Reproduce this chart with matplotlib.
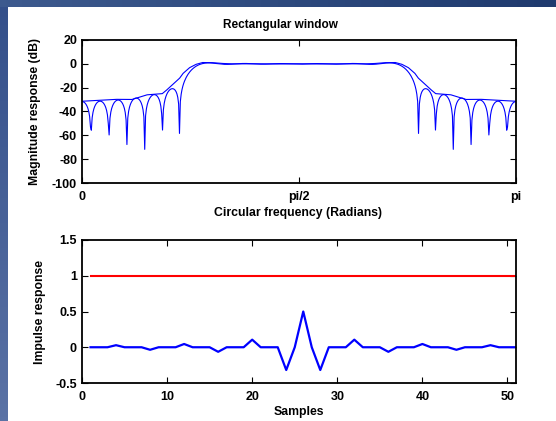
import numpy as np
import matplotlib
matplotlib.use('Agg')
import matplotlib.pyplot as plt

plt.rcParams['font.family'] = ['Liberation Sans', 'DejaVu Sans']
plt.rcParams['font.weight'] = 'bold'
plt.rcParams['axes.unicode_minus'] = False

# 51-tap bandpass impulse response (rectangular window), samples 1..51
samples = np.arange(1, 52)
h = [0, 0, 0, 0.0289, 0, 0, 0, -0.0354, 0, 0, 0, 0.0455, 0, 0, 0, -0.0637,
     0, 0, 0, 0.1061, 0, 0, 0, -0.3183, 0, 0.5, 0, -0.3183, 0, 0, 0, 0.1061,
     0, 0, 0, -0.0637, 0, 0, 0, 0.0455, 0, 0, 0, -0.0354, 0, 0, 0, 0.0289,
     0, 0, 0]
ideal = [1.0] * 51

# smooth response curve, frequency in units of pi and level in dB
env_w = [0.000, 0.040, 0.080, 0.115, 0.125, 0.150, 0.185, 0.195, 0.225,
         0.233, 0.248, 0.263, 0.278, 0.300, 0.325, 0.345, 0.400, 0.450,
         0.500, 0.550, 0.600, 0.655, 0.675, 0.700, 0.722, 0.737, 0.752,
         0.767, 0.775, 0.805, 0.815, 0.850, 0.875, 0.885, 0.920, 0.960, 1.000]
env_db = [-31.4, -30.6, -29.8, -29.9, -28.8, -26.0, -25.0, -22.0, -12.0,
          -8.0, -3.2, -0.4, 1.1, 1.0, 0.3, 0.0, 0.0, -0.1,
          0.0, -0.1, 0.0, 0.0, 0.3, 1.0, 1.1, -0.4, -3.2,
          -8.0, -12.0, -22.0, -25.0, -26.0, -28.8, -29.9, -29.8, -30.6, -31.4]

# magnitude response of h on a 512-point grid over [0, pi]
H = np.fft.rfft(h, 1024)
w = np.linspace(0, np.pi, len(H))
mag_db = 20 * np.log10(np.abs(H) + 1e-12)

fig = plt.figure(figsize=(5.56, 4.21), dpi=100)
fig.patch.set_facecolor('white')

# slide border strips
left = fig.add_axes([0, 0, 8/556, 1], zorder=-5)
left.imshow(np.linspace(0, 1, 100).reshape(-1, 1), aspect='auto',
            cmap=matplotlib.colors.LinearSegmentedColormap.from_list(
                'l', ['#34508a', '#5a72a5']), extent=(0, 1, 0, 1))
left.axis('off')
top = fig.add_axes([0, 1 - 7/421, 1, 7/421], zorder=-4)
top.imshow(np.linspace(0, 1, 100).reshape(1, -1), aspect='auto',
           cmap=matplotlib.colors.LinearSegmentedColormap.from_list(
               't', ['#3d5a8e', '#1f3a6e']), extent=(0, 1, 0, 1))
top.axis('off')

ax1 = fig.add_axes([82/556, 1 - 183/421, 434/556, 143/421])
ax2 = fig.add_axes([82/556, 1 - 383/421, 434/556, 143/421])

ax1.plot(w, mag_db, color='#0000ff', lw=0.8)
ax1.plot(np.array(env_w) * np.pi, env_db, color='#0000ff', lw=0.8)
ax1.set_xlim(0, np.pi)
ax1.set_ylim(-100, 20)
ax1.set_xticks([0, np.pi / 2, np.pi])
ax1.set_xticklabels(['0', 'pi/2', 'pi'])
ax1.set_yticks([20, 0, -20, -40, -60, -80, -100])
ax1.set_xlabel('Circular frequency (Radians)', fontsize=8.8,
               fontweight='bold', va='center')
ax1.xaxis.set_label_coords(0.498, -0.21)
ax1.set_ylabel('Magnitude response (dB)', fontsize=8.8,
               fontweight='bold', va='center')
ax1.yaxis.set_label_coords(-0.108, 0.5)
fig.text(280/556, 1 - 25/421, 'Rectangular window', fontsize=8.5,
         fontweight='bold', ha='center', va='center')

ax2.plot(samples, ideal, color='#ff0000', lw=1.5)
ax2.plot(samples, h, color='#0000ff', lw=1.6)
ax2.set_xlim(0, 51)
ax2.set_ylim(-0.5, 1.5)
ax2.set_xticks([0, 10, 20, 30, 40, 50])
ax2.set_yticks([-0.5, 0, 0.5, 1, 1.5])
ax2.set_yticklabels(['-0.5', '0', '0.5', '1', '1.5'])
ax2.set_xlabel('Samples', fontsize=8.8, fontweight='bold', va='center')
ax2.xaxis.set_label_coords(0.5, -0.20)
ax2.set_ylabel('Impulse response', fontsize=8.8, fontweight='bold',
               va='center')
ax2.yaxis.set_label_coords(-0.097, 0.5)

for ax in (ax1, ax2):
    ax.tick_params(direction='in', length=4, width=0.8, top=True, right=True,
                   labelsize=9)
    ax.tick_params(axis='x', pad=5.5)
    ax.tick_params(axis='y', pad=3.6)
    for s in ax.spines.values():
        s.set_linewidth(1.3)

fig.savefig('out.png', dpi=100, facecolor='white')
